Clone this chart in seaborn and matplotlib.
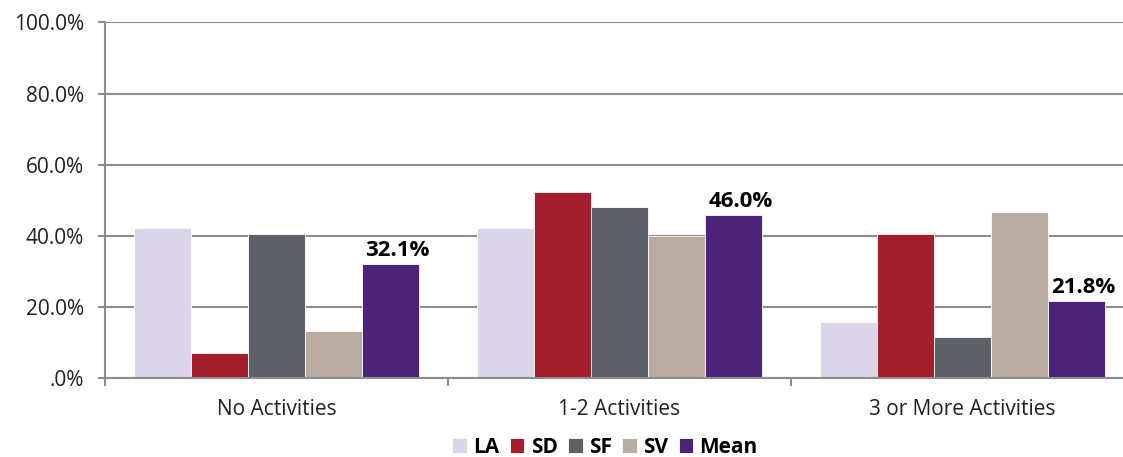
import pandas as pd
import numpy as np
import seaborn as sns
import matplotlib.pyplot as plt
from matplotlib.ticker import FuncFormatter, FixedLocator

# valores (porcentaje)
categorias = ["No Activities", "1-2 Activities", "3 or More Activities"]
series = ["LA", "SD", "SF", "SV", "Mean"]
LA = [42.1, 42.1, 15.7]
SD = [7.1, 52.3, 40.5]
SF = [40.4, 48.0, 11.5]
SV = [13.3, 40.1, 46.6]
Mean = [32.1, 46.0, 21.8]
colores = ["#DCD5EA", "#A51E2D", "#5F6168", "#B8ABA0", "#4B2378"]

filas = []
for nombre, valores in zip(series, [LA, SD, SF, SV, Mean]):
    for cat, v in zip(categorias, valores):
        filas.append({"Categoria": cat, "Serie": nombre, "Valor": v})
df = pd.DataFrame(filas)

sns.set_style("white")
plt.rcParams['font.family'] = ['Open Sans', 'DejaVu Sans']
texto = "#231F20"
gris = "#8c8c8c"

fig = plt.figure(figsize=(11.23, 4.57), dpi=100)
# el eje se sale un poco por la derecha, igual que en el original
ax = fig.add_axes([0.0935, 0.1722, 0.9163, 0.779])

ax.set_axisbelow(True)
ax.yaxis.grid(True, color=gris, linewidth=1.5)

sns.barplot(data=df, x="Categoria", y="Valor", hue="Serie", palette=colores,
            order=categorias, hue_order=series, width=0.83, saturation=1,
            edgecolor="white", linewidth=0.6, ax=ax, legend=True)

ax.set_ylim(0, 100)
ax.set_xlim(-0.5, 2.5)
ax.yaxis.set_major_locator(FixedLocator([0, 20, 40, 60, 80, 100]))
ax.yaxis.set_major_formatter(FuncFormatter(lambda v, p: ".0%" if v == 0 else f"{v:.1f}%"))
ax.tick_params(axis="y", labelsize=15, labelcolor=texto, length=5, width=1.5,
               color=gris, pad=10, left=True)
ax.tick_params(axis="x", labelsize=15, labelcolor=texto, length=0, pad=15)
ax.set_xticks([-0.5, 0.5, 1.5], minor=True)
ax.tick_params(axis="x", which="minor", length=6, width=1.5, color=gris, bottom=True)
ax.set_xlabel("")
ax.set_ylabel("")

for lado in ["top", "right"]:
    ax.spines[lado].set_visible(False)
for lado in ["left", "bottom"]:
    ax.spines[lado].set_color(gris)
    ax.spines[lado].set_linewidth(1.5)

# etiquetas de la media
for rect, v in zip(ax.containers[-1], Mean):
    ax.annotate(f"{v:.1f}%", (rect.get_x() + rect.get_width() / 2, rect.get_height()),
                xytext=(5, 2), textcoords="offset points", ha="center", va="bottom",
                fontsize=16, fontweight="bold", color="black")

leg = ax.legend(loc="center", bbox_to_anchor=(0.486, -0.193), ncol=5, frameon=False,
                handlelength=0.7, handleheight=0.7, handletextpad=0.3, columnspacing=0.5,
                prop={"weight": "bold", "size": 15}, borderpad=0)
for t in leg.get_texts():
    t.set_color("black")

fig.savefig("out.png", dpi=100)
